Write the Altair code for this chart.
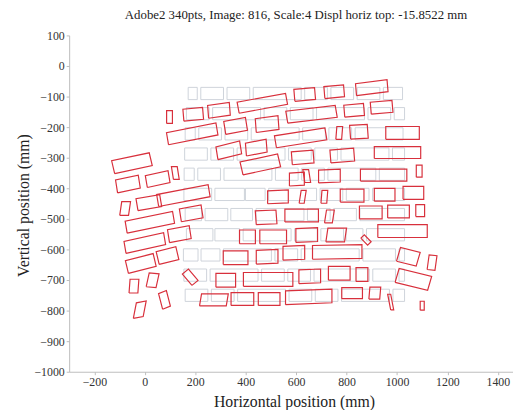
import altair as alt
import pandas as pd

TITLE = "Adobe2 340pts, Image: 816, Scale:4 Displ horiz top: -15.8522 mm"
X_TITLE = "Horizontal position (mm)"
Y_TITLE = "Vertical position (mm)"
X_TICKS = [-200, 0, 200, 400, 600, 800, 1000, 1200, 1400]
Y_TICKS = [100, 0, -100, -200, -300, -400, -500, -600, -700, -800, -900, -1000]

# Displaced bricks (mm): centre x, centre y, length, height, rise of long edge, lean of short edge
red_cx = [466, 634, 751, 900,
          98, 192, 294, 661, 830, 939,
          188, 360, 485, 618, 771, 849, 1022,
          333, 442, 458, 626, 783, 1002,
          -51, -67, 51, 121, 603, 642, 732, 947, 1088,
          153, 528, 626, 712, 822, 951, 1065,
          -78, 16,
          20, 184, 481, 622, 732, 896, 1006, 1092,
          0, 137, 407, 509, 642, 759, 877, 1022,
          -16, 90, 360, 485, 591, 763, 1045, 1139,
          -43, 31, 180, 321, 489, 654, 771, 861, 1065,
          -20, 78, 274, 387, 493, 650, 822, 912, 975, 1100]
red_cy = [-122, -93, -84, -71,
          -167, -158, -145, -158, -145, -135,
          -222, -196, -190, -235, -219, -215, -219,
          -276, -267, -322, -299, -293, -283,
          -318, -386, -370, -350, -370, -360, -360, -357, -344,
          -424, -428, -428, -428, -424, -421, -415,
          -466, -447,
          -511, -482, -495, -489, -492, -479, -476, -473,
          -579, -550, -559, -559, -553, -553, -569, -540,
          -646, -620, -627, -624, -611, -608, -624, -643,
          -720, -701, -691, -701, -698, -688, -678, -682, -698,
          -797, -765, -765, -762, -762, -755, -743, -743, -772, -784]
red_len = [192, 82, 78, 125,
           23, 78, 86, 196, 78, 86,
           196, 86, 90, 200, 23, 70, 133,
           94, 82, 149, 86, 94, 184,
           149, 90, 90, 23, 59, 23, 86, 184, 23,
           204, 82, 20, 23, 94, 82, 82,
           35, 94,
           188, 86, 82, 133, 31, 90, 86, 35,
           157, 86, 63, 106, 86, 74, 27, 196,
           110, 78, 98, 86, 86, 196, 78, 31,
           35, 39, 24, 78, 196, 86, 86, 47, 129,
           39, 31, 106, 90, 86, 184, 82, 43, 12, 16]
red_hgt = [36, 39, 39, 39,
           42, 39, 42, 39, 39, 39,
           39, 42, 45, 39, 42, 45, 42,
           42, 42, 42, 42, 42, 39,
           42, 42, 39, 42, 42, 42, 42, 39, 39,
           39, 42, 42, 42, 42, 42, 42,
           45, 39,
           39, 42, 45, 42, 42, 42, 42, 39,
           39, 42, 45, 45, 45, 45, 11, 42,
           42, 42, 45, 45, 45, 45, 45, 48,
           45, 45, 37, 45, 45, 45, 45, 45, 45,
           51, 51, 39, 42, 42, 45, 36, 39, 51, 29]
red_rise = [29, 6, 6, 13,
            0, 6, 10, 19, 6, 6,
            32, 13, 10, 26, 0, 3, 0,
            19, 13, 26, 6, 6, 0,
            26, 16, 16, 0, 3, 0, 3, 0, 0,
            32, 3, 0, 0, 0, 0, 0,
            0, 13,
            32, 13, 3, 0, 0, 0, 0, 0,
            29, 13, 0, 0, 3, 0, -23, 0,
            23, 16, 0, 3, 3, 3, -16, -3,
            0, -3, 16, 0, 0, 3, 0, 0, -26,
            6, 10, 0, 0, 0, 6, 0, 0, 0, 0]
red_lean = [-8, -4, -4, -4,
            0, -4, -4, -8, -4, -4,
            -8, -8, -4, -8, 4, -4, 0,
            -8, -4, -12, -4, -4, 0,
            -12, -8, -8, -8, 0, -8, 0, 0, 0,
            -8, 0, 8, 4, 0, 0, 0,
            8, -8,
            -8, -8, -4, 0, 8, 0, 0, 0,
            -8, -8, 0, 0, 0, 8, 14, 0,
            -12, -12, 0, 0, 0, 0, 16, 8,
            4, 12, -38, 0, 0, 0, 0, 0, 16,
            12, -16, 8, 0, 0, 0, 0, 4, -12, 0]

# Original (undisplaced) brick courses: course centre y and brick extents in x (mm)
GRAY_H = 40
gray_row_y = [-90, -156, -222, -288, -354, -420, -486, -552, -618, -684, -750]
gray_row_x0 = [
    [172, 222, 326, 430, 634, 738, 842, 946],
    [165, 269, 473, 577, 681, 885, 989],
    [160, 214, 318, 422, 626, 730, 834],
    [158, 262, 366, 570, 674, 778, 982],
    [156, 210, 314, 518, 622, 726, 930],
    [155, 278, 399, 491, 695, 799, 903],
    [160, 239, 341, 441, 645, 749, 853],
    [165, 278, 390, 594, 698, 798, 879],
    [153, 223, 312, 516, 620, 865, 1008],
    [155, 259, 463, 567, 671, 904, 1008],
    [160, 264, 368, 572, 676, 780, 984],
]
gray_row_x1 = [
    [208, 312, 416, 620, 724, 828, 932, 1022],
    [255, 459, 563, 667, 871, 975, 1030],
    [200, 304, 408, 612, 716, 820, 1024],
    [248, 352, 556, 660, 764, 968, 1030],
    [196, 300, 504, 608, 712, 916, 1030],
    [265, 395, 477, 681, 785, 889, 1030],
    [225, 329, 427, 631, 735, 839, 1030],
    [270, 376, 580, 684, 788, 865, 1030],
    [211, 298, 502, 606, 850, 994, 1030],
    [245, 449, 553, 657, 890, 994, 1030],
    [250, 354, 558, 662, 766, 970, 1030],
]

# ---- build tables ----
red_rows = []
for i, (cx, cy, L, H, r, l) in enumerate(zip(red_cx, red_cy, red_len, red_hgt, red_rise, red_lean)):
    pts = [
        (cx - L / 2 - l / 2, cy - H / 2 - r / 2),
        (cx + L / 2 - l / 2, cy - H / 2 + r / 2),
        (cx + L / 2 + l / 2, cy + H / 2 + r / 2),
        (cx - L / 2 + l / 2, cy + H / 2 - r / 2),
    ]
    pts.append(pts[0])
    for k, (x, y) in enumerate(pts):
        red_rows.append({"brick": i, "k": k, "x": x, "y": y})
red_df = pd.DataFrame(red_rows)

gray_rows = []
for yc, xs0, xs1 in zip(gray_row_y, gray_row_x0, gray_row_x1):
    for a, b in zip(xs0, xs1):
        gray_rows.append({"x": a, "x2": b, "y": yc - GRAY_H / 2, "y2": yc + GRAY_H / 2})
gray_df = pd.DataFrame(gray_rows)

FONT = "Liberation Serif"
xscale = alt.Scale(domain=[-300, 1460], nice=False, zero=False)
yscale = alt.Scale(domain=[-1000, 100], nice=False, zero=False)

xaxis = alt.Axis(values=X_TICKS, title=X_TITLE, grid=False, labelOverlap=False, labelFlush=False,
                 format="d", titleX=228, titleY=30, titleBaseline="middle", titleAlign="center")
yaxis = alt.Axis(values=Y_TICKS, title=Y_TITLE, grid=False, labelOverlap=False, labelFlush=False,
                 format="d", titleX=-46, titleY=172, titleAngle=-90, titleBaseline="middle",
                 titleAlign="center")

gray = alt.Chart(gray_df).mark_rect(filled=False, stroke="#c9ced6", strokeWidth=0.9).encode(
    x=alt.X("x:Q", scale=xscale, axis=xaxis),
    x2="x2:Q",
    y=alt.Y("y:Q", scale=yscale, axis=yaxis),
    y2="y2:Q",
)

red = alt.Chart(red_df).mark_line(color="#d8303c", strokeWidth=1.2, clip=True).encode(
    x=alt.X("x:Q", scale=xscale, axis=xaxis),
    y=alt.Y("y:Q", scale=yscale, axis=yaxis),
    detail="brick:N",
    order="k:Q",
)

chart = alt.layer(gray, red).properties(
    width=450, height=341,
    title=alt.TitleParams(TITLE, font=FONT, fontSize=13, fontWeight="normal", color="#222222",
                          anchor="middle", offset=8, dx=5),
    padding={"left": 62, "top": 25, "right": 0, "bottom": 36},
    autosize=alt.AutoSizeParams(type="none"),
).configure_view(stroke="transparent").configure_axis(
    domainColor="#bdbdbd", tickColor="#bdbdbd", tickSize=3,
    labelFont=FONT, labelFontSize=12, labelColor="#333333", labelPadding=2,
    titleFont=FONT, titleFontSize=16, titleFontWeight="normal", titleColor="#222222",
)

chart.save("out.html", embed_options={"renderer": "svg", "actions": False})
